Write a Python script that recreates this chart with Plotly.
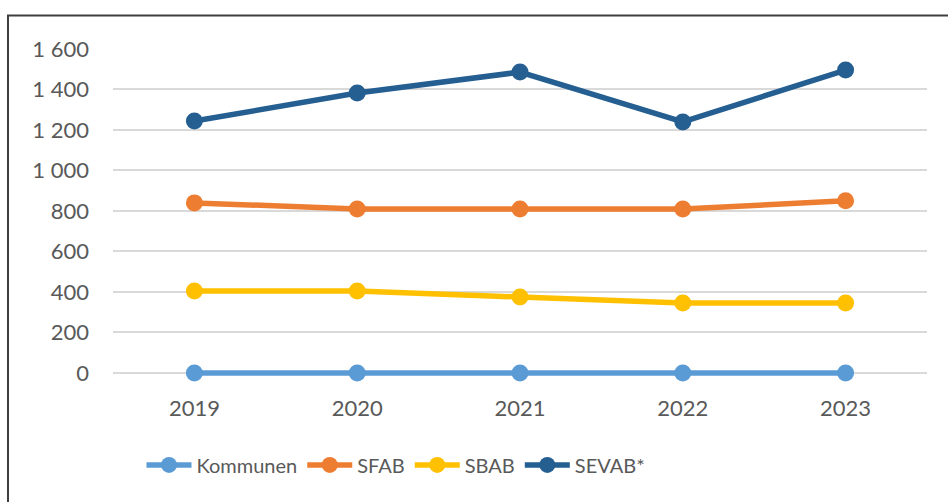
import plotly.graph_objects as go

years = ["2019", "2020", "2021", "2022", "2023"]
kommunen = [0, 0, 0, 0, 0]
sfab = [840, 810, 810, 810, 850]
sbab = [405, 405, 375, 345, 345]
sevab = [1244, 1383, 1486, 1240, 1496]

series = [
    ("Kommunen", kommunen, "#5B9BD5"),
    ("SFAB", sfab, "#ED7D31"),
    ("SBAB", sbab, "#FFC000"),
    ("SEVAB*", sevab, "#255E91"),
]

fig = go.Figure()
for name, vals, col in series:
    fig.add_trace(go.Scatter(
        x=years, y=vals, name=name, mode="lines+markers",
        line=dict(color=col, width=5.5),
        marker=dict(color=col, size=17),
        cliponaxis=False,
    ))

# outer chart border (only top and left visible in the crop)
fig.add_shape(type="rect", xref="paper", yref="paper",
              x0=-0.129, y0=-1.0, x1=1.3, y1=1.102,
              line=dict(color="#3f3f3f", width=2), layer="below")

fig.update_layout(
    width=948, height=502,
    margin=dict(l=113, r=21, t=49, b=125),
    paper_bgcolor="white", plot_bgcolor="white",
    separators=", ",
    font=dict(family="Lato, Noto Sans, sans-serif", size=22, color="#595959"),
    showlegend=True,
    legend=dict(orientation="h", x=0.035, xanchor="left", y=-0.268, yanchor="middle",
                font=dict(size=20, color="#595959"), itemwidth=45,
                traceorder="normal"),
)
fig.update_xaxes(type="category", range=[-0.5, 4.5], showgrid=False,
                 showline=False, zeroline=False, ticklabelstandoff=16)
fig.update_yaxes(range=[-20, 1600], tick0=0, dtick=200, tickformat=",d",
                 showgrid=True, gridcolor="#D9D9D9", gridwidth=1.5,
                 zeroline=False, showline=False, ticklabelstandoff=23)

fig.write_html("out.html", config={"displayModeBar": False},
               post_script="document.body.style.margin='0';document.body.style.overflow='hidden';")
